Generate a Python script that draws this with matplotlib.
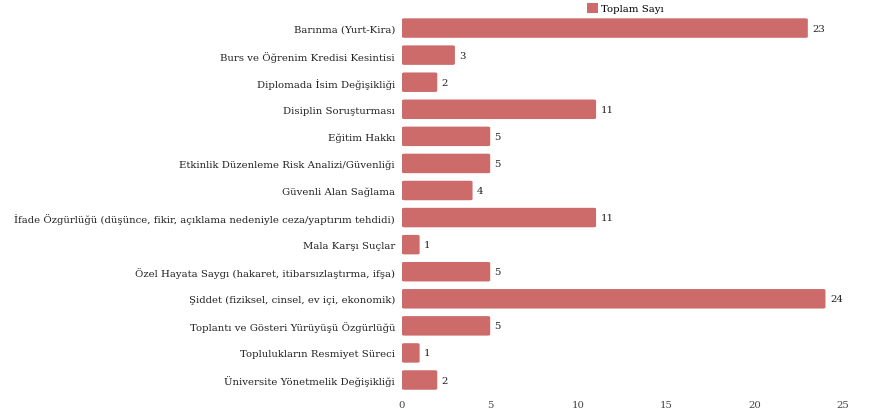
import matplotlib.pyplot as plt
from matplotlib.patches import FancyBboxPatch

plt.rcParams['font.family'] = ['DejaVu Serif']

categories = [
    'Barınma (Yurt-Kira)',
    'Burs ve Öğrenim Kredisi Kesintisi',
    'Diplomada İsim Değişikliği',
    'Disiplin Soruşturması',
    'Eğitim Hakkı',
    'Etkinlik Düzenleme Risk Analizi/Güvenliği',
    'Güvenli Alan Sağlama',
    'İfade Özgürlüğü (düşünce, fikir, açıklama nedeniyle ceza/yaptırım tehdidi)',
    'Mala Karşı Suçlar',
    'Özel Hayata Saygı (hakaret, itibarsızlaştırma, ifşa)',
    'Şiddet (fiziksel, cinsel, ev içi, ekonomik)',
    'Toplantı ve Gösteri Yürüyüşü Özgürlüğü',
    'Toplulukların Resmiyet Süreci',
    'Üniversite Yönetmelik Değişikliği',
]
values = [23, 3, 2, 11, 5, 5, 4, 11, 1, 5, 24, 5, 1, 2]

color = '#cd6b6b'
txt = '#222222'

fig = plt.figure(figsize=(8.71, 4.14), dpi=100)
ax = fig.add_axes([0.4615, 0.047, 0.5065, 0.9155])

ypos = list(range(len(categories)))
bars = ax.barh(ypos, values, height=0.72, color='none')
for b, v in zip(bars, values):
    x, y = b.get_x(), b.get_y()
    w, h = b.get_width(), b.get_height()
    ax.add_patch(FancyBboxPatch((x, y), w, h, boxstyle='round,pad=0,rounding_size=0.15',
                                mutation_aspect=1 / 4, facecolor=color, edgecolor='none'))
    ax.text(v + 0.25, y + h / 2, str(v), va='center', ha='left', fontsize=7.3, color=txt)

ax.set_yticks(ypos)
ax.set_yticklabels(categories, fontsize=7.3, color=txt)
ax.set_ylim(len(categories) - 0.5, -0.5)
ax.set_xlim(0, 25)
ax.set_xticks([0, 5, 10, 15, 20, 25])
ax.tick_params(axis='x', labelsize=7.3, colors='#444444', length=0, pad=5)
ax.tick_params(axis='y', length=0, pad=5)
for s in ax.spines.values():
    s.set_visible(False)

handle = plt.Rectangle((0, 0), 1, 1, facecolor=color, edgecolor='none')
fig.legend([handle], ['Toplam Sayı'], loc='upper center', bbox_to_anchor=(0.718, 1.012),
           frameon=False, fontsize=7.3, handlelength=1.1, handleheight=1.1, handletextpad=0.3)

fig.savefig('out.png', dpi=100)
